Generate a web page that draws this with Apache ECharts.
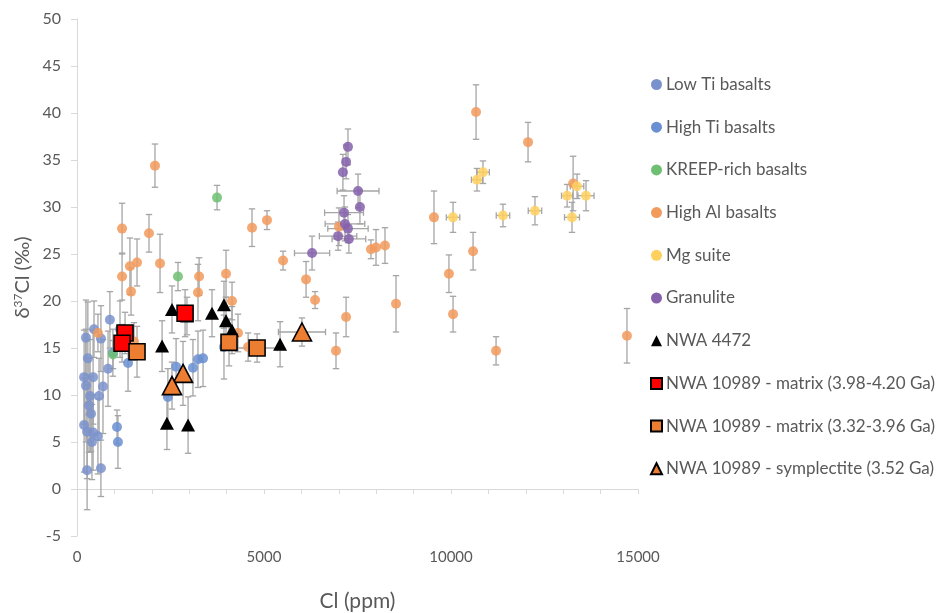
<!DOCTYPE html>
<html>
<head>
<meta charset="utf-8">
<script src="https://cdn.jsdelivr.net/npm/echarts@6/dist/echarts.min.js"></script>
<style>
  html, body { margin: 0; padding: 0; background: #fff; }
  #chart { width: 937px; height: 613px; }
</style>
</head>
<body>
<div id="chart"></div>
<script>
// Each point: [Cl (ppm), δ37Cl (‰), ±Cl error, ±δ37Cl error]
const lowTi = [
  [880, 18.0, 0, 3.0], [455, 17.0, 0, 3.0], [240, 16.1, 0, 4.0], [640, 16.0, 0, 3.5],
  [1150, 17.0, 0, 3.0], [290, 13.9, 0, 6.0], [830, 12.8, 0, 4.0], [190, 11.9, 0, 5.0],
  [430, 11.9, 0, 5.0], [240, 11.0, 0, 6.0], [695, 10.9, 0, 5.0], [350, 9.9, 0, 6.0],
  [590, 9.9, 0, 4.0], [320, 8.9, 0, 5.0], [375, 8.0, 0, 4.0], [190, 6.8, 0, 5.0],
  [270, 6.1, 0, 5.0], [430, 6.0, 0, 4.0], [560, 5.6, 0, 4.0], [400, 5.0, 0, 4.0],
  [270, 2.0, 0, 4.2], [640, 2.2, 0, 3.0]
];
const highTi = [
  [960, 14.5, 0, 2.5], [1365, 13.4, 0, 3.0], [1070, 6.6, 0, 1.8], [1095, 5.0, 0, 2.8],
  [2650, 13.0, 0, 3.0], [2430, 9.8, 0, 3.0], [3100, 12.9, 0, 3.0], [3235, 13.8, 0, 3.0],
  [3370, 13.9, 0, 3.0], [3930, 15.1, 0, 3.4]
];
const kreep = [
  [963, 14.3, 0, 1.5], [2700, 22.6, 0, 1.5], [3744, 31.0, 0, 1.3]
];
const highAl = [
  [1205, 27.7, 0, 2.7], [1925, 27.2, 0, 2.0], [2085, 34.4, 0, 2.3], [2220, 24.0, 0, 3.1],
  [1205, 22.6, 0, 2.5], [1415, 23.7, 0, 3.0], [1605, 24.1, 0, 2.5], [1445, 21.0, 0, 2.5],
  [560, 16.6, 0, 2.0], [1525, 15.7, 0, 2.0], [3265, 22.6, 0, 2.0], [3235, 20.9, 0, 3.0],
  [3985, 22.9, 0, 2.5], [4145, 20.0, 0, 2.0], [4305, 16.6, 0, 2.0], [4575, 15.1, 0, 1.5],
  [4680, 27.8, 0, 2.0], [5080, 28.6, 0, 1.0], [5510, 24.3, 0, 1.0], [6125, 22.3, 0, 1.9],
  [6365, 20.1, 0, 0.9], [7195, 18.3, 0, 2.1], [6925, 14.7, 0, 1.9], [7005, 27.9, 0, 2.0],
  [7860, 25.5, 0, 1.0], [7995, 25.7, 0, 1.9], [8235, 25.9, 0, 1.9], [8530, 19.7, 0, 3.0],
  [9545, 28.9, 0, 2.8], [9945, 22.9, 0, 2.0], [10055, 18.6, 0, 1.9], [10590, 25.3, 0, 2.0],
  [11205, 14.7, 0, 1.5], [10670, 40.1, 0, 2.9], [12060, 36.9, 0, 2.1], [13265, 32.5, 0, 2.9],
  [14705, 16.3, 0, 2.9]
];
const mgSuite = [
  [10055, 28.9, 180, 1.6], [10695, 32.9, 150, 1.2], [10855, 33.7, 170, 1.2],
  [11390, 29.1, 180, 1.2], [12245, 29.6, 180, 1.5], [13105, 31.2, 150, 1.2],
  [13370, 32.2, 180, 1.3], [13610, 31.2, 215, 1.6], [13235, 28.9, 200, 1.6]
];
const granulite = [
  [7245, 36.4, 0, 1.9], [7195, 34.8, 0, 1.8], [7110, 33.7, 0, 1.9], [7515, 31.7, 560, 1.8],
  [7565, 30.0, 0, 1.8], [7140, 29.4, 520, 1.8], [7165, 28.2, 530, 1.8], [7245, 27.7, 540, 1.5],
  [6980, 26.9, 500, 1.5], [7270, 26.6, 450, 1.5], [6285, 25.1, 470, 1.8]
];
const nwa4472 = [
  [2540, 19.1, 0, 2.5], [2940, 18.4, 0, 2.0], [3610, 18.7, 0, 2.5], [3930, 19.6, 0, 2.5],
  [3985, 17.9, 0, 2.5], [4145, 16.9, 0, 2.5], [2275, 15.2, 0, 2.7], [2405, 7.0, 0, 2.8],
  [2970, 6.8, 0, 3.0], [5430, 15.4, 0, 2.4]
];
const matrixOld = [
  [1285, 16.6, 0, 2.2], [1205, 15.5, 0, 2.0], [2890, 18.7, 0, 2.5]
];
const matrixYoung = [
  [1605, 14.6, 0, 2.7], [4065, 15.6, 0, 2.5], [4815, 15.0, 540, 1.5]
];
const symplectite = [
  [2835, 12.3, 0, 3.4], [2540, 11.0, 0, 2.5], [6015, 16.7, 630, 1.5]
];

const seriesNames = [
  'Low Ti basalts', 'High Ti basalts', 'KREEP-rich basalts', 'High Al basalts',
  'Mg suite', 'Granulite', 'NWA 4472',
  'NWA 10989 - matrix (3.98-4.20 Ga)', 'NWA 10989 - matrix (3.32-3.96 Ga)',
  'NWA 10989 - symplectite (3.52 Ga)'
];
const xTicks = [0, 5000, 10000, 15000];

const FONT = 'Lato, "Open Sans", sans-serif';
const GREY_TEXT = '#595959';

// Grey whiskers with end caps for each point's ± errors
function errorBars(params, api) {
  const x = api.value(0), y = api.value(1), xe = api.value(2), ye = api.value(3);
  const c = api.coord([x, y]);
  const style = { stroke: '#a5a5a5', lineWidth: 1.3 };
  const cap = 3.2;
  const kids = [];
  if (ye > 0) {
    const t = api.coord([x, y + ye])[1], b = api.coord([x, y - ye])[1];
    kids.push({ type: 'line', shape: { x1: c[0], y1: t, x2: c[0], y2: b }, style });
    kids.push({ type: 'line', shape: { x1: c[0] - cap, y1: t, x2: c[0] + cap, y2: t }, style });
    kids.push({ type: 'line', shape: { x1: c[0] - cap, y1: b, x2: c[0] + cap, y2: b }, style });
  }
  if (xe > 0) {
    const l = api.coord([x - xe, y])[0], r = api.coord([x + xe, y])[0];
    kids.push({ type: 'line', shape: { x1: l, y1: c[1], x2: r, y2: c[1] }, style });
    kids.push({ type: 'line', shape: { x1: l, y1: c[1] - cap, x2: l, y2: c[1] + cap }, style });
    kids.push({ type: 'line', shape: { x1: r, y1: c[1] - cap, x2: r, y2: c[1] + cap }, style });
  }
  return { type: 'group', children: kids };
}

function dots(name, data, color) {
  return {
    name, type: 'scatter', data, symbol: 'circle', symbolSize: 10, z: 3,
    itemStyle: { color, opacity: 0.85 }
  };
}
function marks(name, data, symbol, size, color, border) {
  return {
    name, type: 'scatter', data, symbol, symbolSize: size, z: 4,
    itemStyle: { color, borderColor: border || color, borderWidth: border ? 1.6 : 0, opacity: 1 }
  };
}

const groups = [lowTi, highTi, kreep, highAl, mgSuite, granulite, nwa4472, matrixOld, matrixYoung, symplectite];
const allErrors = [].concat(...groups);

const series = [
  { name: 'err', type: 'custom', renderItem: errorBars, data: allErrors, encode: { x: 0, y: 1 }, z: 2, silent: true },
  dots(seriesNames[0], lowTi, '#7a92cc'),
  dots(seriesNames[1], highTi, '#6a8fd2'),
  dots(seriesNames[2], kreep, '#6fbf72'),
  dots(seriesNames[3], highAl, '#f29a5c'),
  dots(seriesNames[4], mgSuite, '#ffd05e'),
  dots(seriesNames[5], granulite, '#8560ab'),
  marks(seriesNames[6], nwa4472, 'triangle', [14, 13], '#000000'),
  marks(seriesNames[7], matrixOld, 'rect', 16, '#ff0000', '#000000'),
  marks(seriesNames[8], matrixYoung, 'rect', 16, '#ed7d31', '#000000'),
  marks(seriesNames[9], symplectite, 'triangle', [19, 18], '#ed7d31', '#000000')
];

const chart = echarts.init(document.getElementById('chart'), null, { renderer: 'canvas' });
chart.setOption({
  backgroundColor: '#ffffff',
  animation: false,
  textStyle: { fontFamily: FONT },
  grid: { left: 77, right: 299, top: 19, bottom: 77, containLabel: false, outerBoundsMode: 'none' },
  xAxis: {
    type: 'value', min: 0, max: 15000, interval: 1000,
    name: 'Cl (ppm)', nameLocation: 'middle', nameGap: 55,
    nameTextStyle: { fontSize: 21, color: GREY_TEXT, fontFamily: FONT },
    axisLine: { lineStyle: { color: '#d9d9d9', width: 1 } },
    axisTick: { show: true, length: 5, lineStyle: { color: '#d9d9d9' } },
    splitLine: { show: false },
    axisLabel: {
      fontSize: 15, color: GREY_TEXT, margin: 14, fontFamily: FONT,
      formatter: v => (xTicks.indexOf(v) >= 0 ? String(v) : '')
    }
  },
  yAxis: {
    type: 'value', min: -5, max: 50, interval: 5,
    name: '{n|δ}{s|37}{n|Cl (‰)}', nameLocation: 'middle', nameGap: 44, nameRotate: 90,
    nameMoveOverlap: false,
    nameTextStyle: {
      color: GREY_TEXT, fontFamily: FONT,
      rich: {
        n: { fontSize: 20, color: GREY_TEXT, fontFamily: FONT },
        s: { fontSize: 12, color: GREY_TEXT, fontFamily: FONT, padding: [0, 0, 9, 0] }
      }
    },
    axisLine: { show: true, lineStyle: { color: '#d9d9d9', width: 1 } },
    axisTick: { show: true, length: 6, lineStyle: { color: '#d9d9d9' } },
    splitLine: { show: false },
    axisLabel: { fontSize: 16, color: GREY_TEXT, margin: 16, fontFamily: FONT }
  },
  legend: {
    orient: 'vertical', left: 645, top: 71,
    itemWidth: 11, itemHeight: 11, itemGap: 25.7, itemSymbolKeepAspect: true,
    textStyle: { fontSize: 17, color: GREY_TEXT, fontFamily: FONT, lineHeight: 17, padding: [0, 0, 0, -1] },
    data: seriesNames.map(n => ({ name: n, itemStyle: { opacity: 1 } }))
  },
  series
});
</script>
</body>
</html>
